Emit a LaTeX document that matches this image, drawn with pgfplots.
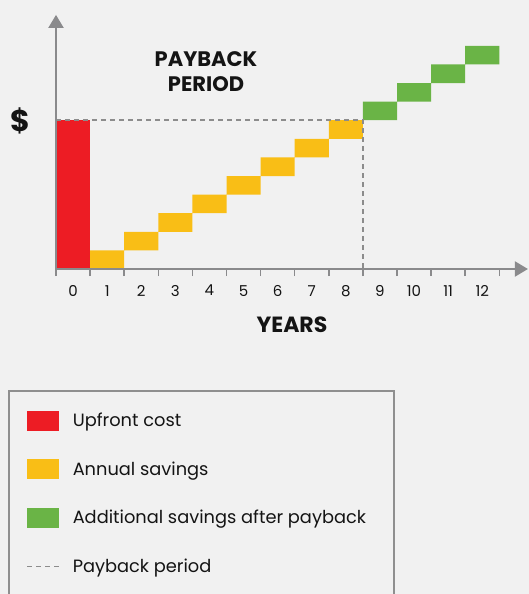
\documentclass[border=0pt]{standalone}
\usepackage{fontspec}
\setmainfont{Poppins}
\usepackage{pgfplots}
\pgfplotsset{compat=1.18}
\usetikzlibrary{arrows.meta}

\definecolor{bg}{RGB}{241,241,241}
\definecolor{upfront}{RGB}{237,28,36}
\definecolor{annual}{RGB}{249,190,22}
\definecolor{extra}{RGB}{106,180,70}
\definecolor{axisgray}{RGB}{138,138,140}
\definecolor{dashgray}{RGB}{140,140,140}
\definecolor{boxgray}{RGB}{143,143,143}
\definecolor{ink}{RGB}{20,20,20}

\pgfplotsset{
  swatch/.style={legend image code/.code={\fill[#1] (0pt,-4pt) rectangle (32pt,16pt);}},
}

% each block: four corners, then a nan row to break the path
\pgfplotstableread{
x y
0 0
1 0
1 8
0 8
}\upfronttbl

\pgfplotstableread{
x y
1 0
2 0
2 1
1 1
nan nan
2 1
3 1
3 2
2 2
nan nan
3 2
4 2
4 3
3 3
nan nan
4 3
5 3
5 4
4 4
nan nan
5 4
6 4
6 5
5 5
nan nan
6 5
7 5
7 6
6 6
nan nan
7 6
8 6
8 7
7 7
nan nan
8 7
9 7
9 8
8 8
}\annualtbl

\pgfplotstableread{
x y
9 8
10 8
10 9
9 9
nan nan
10 9
11 9
11 10
10 10
nan nan
11 10
12 10
12 11
11 11
nan nan
12 11
13 11
13 12
12 12
}\extratbl

\begin{document}
\begin{tikzpicture}
\path[use as bounding box] (-56pt,-325pt) rectangle (473pt,269pt);
\fill[bg] (-56pt,-325pt) rectangle (473pt,269pt);
\begin{axis}[
    at={(0pt,0pt)}, anchor=south west,
    x=34.1pt, y=18.6pt,
    xmin=0, xmax=13.84, ymin=0, ymax=13.66,
    axis lines=left,
    axis on top,
    clip=false,
    unbounded coords=jump,
    axis line style={axisgray, line width=2pt, -{Triangle[width=15pt,length=13pt]}},
    xtick={0.5,1.5,2.5,3.5,4.5,5.5,6.5,7.5,8.5,9.5,10.5,11.5,12.5},
    xticklabels={0,1,2,3,4,5,6,7,8,9,10,11,12},
    minor xtick={0,1,2,3,4,5,6,7,8,9,10,11,12,13},
    ytick=\empty,
    tick align=outside,
    major tick length=0pt,
    minor tick length=7pt,
    minor tick style={axisgray, line width=1.5pt},
    xticklabel style={font=\fontsize{15}{18}\selectfont, text=ink, inner sep=0pt, anchor=north, yshift=-16pt},
    xlabel={YEARS},
    xlabel style={font=\fontsize{22}{26}\selectfont\bfseries, text=ink, inner sep=0pt,
                  at={(axis description cs:0.5,0)}, anchor=north, yshift=-48pt},
    ylabel={\$},
    ylabel style={font=\fontsize{30}{32}\selectfont\bfseries, text=ink, rotate=-90,
                  at={(axis description cs:-0.0763,0.583)}, anchor=center},
    legend style={
        at={(axis description cs:-0.1017,-0.4764)}, anchor=north west,
        draw=boxgray, line width=1.5pt, fill=none,
        inner xsep=18pt, inner ysep=20pt,
        row sep=28.5pt,
        font=\fontsize{17.8}{20}\selectfont,
        text=ink,
        nodes={inner sep=0pt},
        cells={anchor=base west},
        /tikz/every odd column/.append style={column sep=13pt},
    },
]
\addplot[fill=upfront, draw=none, swatch=upfront] table {\upfronttbl};
\addlegendentry{Upfront cost}
\addplot[fill=annual, draw=none, swatch=annual] table {\annualtbl};
\addlegendentry{Annual savings}
\addplot[fill=extra, draw=none, swatch=extra] table {\extratbl};
\addlegendentry{Additional savings after payback\hspace*{10pt}}
\addplot[dashgray, line width=2pt, dash pattern=on 5pt off 4pt,
    legend image code/.code={\path[draw=none, fill=none] (0pt,-4pt) rectangle (32pt,16pt);
      \draw[dashgray, line width=1pt, dash pattern=on 5pt off 4pt] (0pt,6pt) -- (32pt,6pt);}]
    coordinates {(0,8) (9,8) (9,0)};
\addlegendentry{Payback period}
\node[font=\fontsize{21}{25}\selectfont\bfseries, text=ink, align=center, inner sep=0pt]
    at (axis cs:4.4,10.59) {PAYBACK\\PERIOD};
\end{axis}
\end{tikzpicture}
\end{document}
